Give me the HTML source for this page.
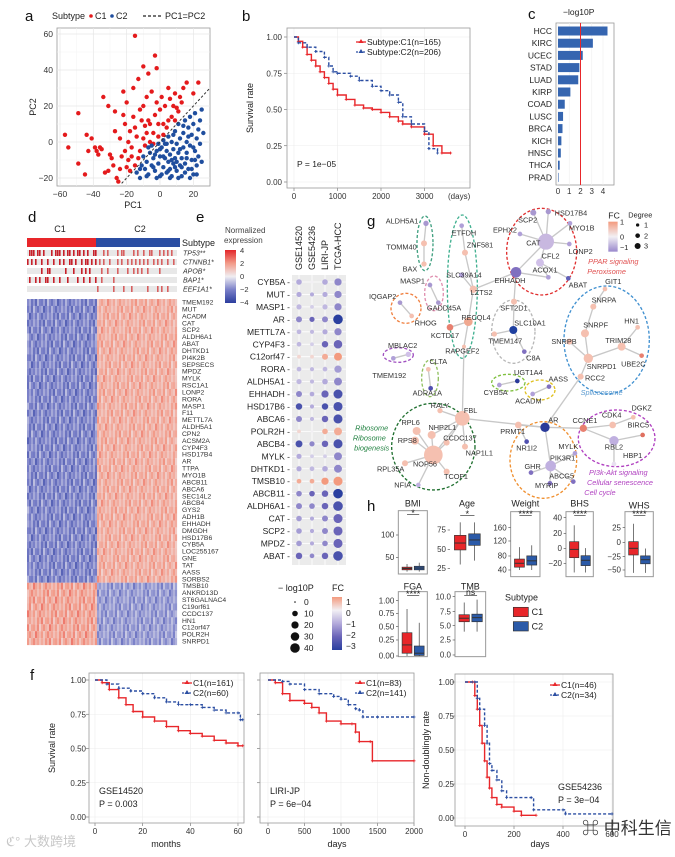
<!DOCTYPE html>
<html><head><meta charset="utf-8">
<style>
html,body{margin:0;padding:0;background:#fff;}
svg{display:block;font-family:"Liberation Sans","Noto Sans CJK SC",sans-serif;}
</style></head>
<body>
<svg id="fig" width="675" height="857" viewBox="0 0 675 857" xmlns="http://www.w3.org/2000/svg">
<rect x="0" y="0" width="675" height="857" fill="#fff"/>
<defs>
<linearGradient id="gradD" x1="0" y1="0" x2="0" y2="1"><stop offset="0" stop-color="#e3262a"/><stop offset="0.25" stop-color="#f29a88"/><stop offset="0.5" stop-color="#f0eef2"/><stop offset="0.75" stop-color="#7a80c8"/><stop offset="1" stop-color="#2c3e9e"/></linearGradient>
<linearGradient id="gradE" x1="0" y1="0" x2="0" y2="1"><stop offset="0" stop-color="#f39a7e"/><stop offset="0.25" stop-color="#f2f0f4"/><stop offset="0.5" stop-color="#b3aadb"/><stop offset="0.75" stop-color="#6a64b8"/><stop offset="1" stop-color="#2a3f9f"/></linearGradient>
<linearGradient id="gradG" x1="0" y1="0" x2="0" y2="1"><stop offset="0" stop-color="#f39a7e"/><stop offset="0.5" stop-color="#f2f0f4"/><stop offset="1" stop-color="#9a88cc"/></linearGradient>
</defs>

<!-- panel labels -->
<g font-size="15" fill="#111">
<text x="25" y="21">a</text>
<text x="242" y="21">b</text>
<text x="528" y="19">c</text>
<text x="28" y="222">d</text>
<text x="196" y="222">e</text>
<text x="367" y="226">g</text>
<text x="367" y="511">h</text>
<text x="30" y="680">f</text>
</g>

<!-- panel a legend -->
<g font-size="9" fill="#222">
<text x="52" y="19">Subtype</text>
<circle cx="91" cy="16" r="1.8" fill="#e41a1c"/>
<text x="95" y="19">C1</text>
<circle cx="112" cy="16" r="1.8" fill="#1f4e9e"/>
<text x="116" y="19">C2</text>
<line x1="143" y1="16" x2="161" y2="16" stroke="#222" stroke-width="1.2" stroke-dasharray="3,2"/>
<text x="165" y="19">PC1=PC2</text>
</g>
<g id="pa"></g>
<g id="pb"></g>
<g id="pc"></g>
<g id="pd"></g>
<g id="pe"></g>
<g id="pg" transform="translate(340,190) scale(0.3333)"></g>
<g id="ph" transform="translate(340,480) scale(0.3333)"></g>
<g id="pf"></g>

<!-- watermarks -->
<text x="6" y="846" font-size="13" fill="#c8c8c8">ℭ° 大数跨境</text>
<text x="582" y="834" font-size="17" fill="#333">⌘ 中科生信</text>
</svg>

<script>
const NS='http://www.w3.org/2000/svg';
function mk(tag,a,p){const e=document.createElementNS(NS,tag);for(const k in a)e.setAttribute(k,a[k]);p.appendChild(e);return e;}
function tx(s,a,p){const e=mk('text',a,p);e.textContent=s;return e;}

/* ---------- data: panel a ---------- */
const pcaC1=[[-57,4],[-55,-3],[-49,16],[-49,-12],[-45,-18],[-44,4],[-43,-5],[-41,2],[-39,-3],[-38,-5],[-37,-7],[-36,-3],[-35,-4],[-34,25],[-33,-17],[-31,20],[-31,-16],[-30,-7],[-29,-9],[-28,-13],[-27,17],[-27,6],[-26,-20],[-25,-22],[-24,-15],[-24,2],[-23,-8],[-22,15],[-22,28],[-21,10],[-21,-5],[-20,22],[-19,-10],[-18,6],[-18,-16],[-17,-3],[-16,30],[-15,8],[-15,-13],[-14,3],[-13,35],[-12,18],[-12,-5],[-11,12],[-10,42],[-10,20],[-9,-2],[-8,5],[-8,25],[-7,38],[-6,10],[-6,0],[-5,28],[-4,5],[-3,48],[-3,15],[-2,41],[-2,22],[-1,3],[0,18],[1,25],[2,10],[3,20],[4,8],[5,30],[6,24],[7,14],[8,20],[9,27],[10,19],[11,17],[12,25],[13,22],[14,30],[16,33],[20,27],[23,33],[-15,59],[-20,-14],[-17,-8],[-10,2],[-7,12],[-4,-1],[-13,-9],[-16,14],[-9,9],[-19,0],[2,4],[5,12],[9,12],[-1,10]];
const pcaC2=[[-14,-17],[-12,-20],[-11,-13],[-10,-8],[-9,-15],[-8,-11],[-7,-18],[-6,-6],[-5,-13],[-5,-2],[-4,-9],[-3,-16],[-2,-5],[-1,-12],[-1,-1],[0,-8],[0,-19],[1,-3],[2,-14],[2,1],[3,-9],[3,-1],[4,-17],[4,-5],[5,-11],[5,3],[6,-7],[6,-15],[7,0],[7,-19],[8,-4],[8,-12],[9,6],[9,-9],[10,-1],[10,-16],[11,-6],[11,10],[12,-13],[12,2],[13,-9],[13,-19],[14,5],[14,-3],[15,12],[15,-12],[16,-6],[16,0],[17,8],[17,-15],[18,-2],[18,14],[19,-10],[19,4],[20,-18],[20,10],[21,-5],[21,16],[22,2],[22,-13],[23,-8],[23,7],[24,12],[24,-1],[25,18],[25,-11],[26,5],[-2,-20],[1,-18],[6,-20],[-7,-3],[-4,-14],[9,-14],[15,-17],[11,-20],[18,-20],[-12,-15],[-8,-19],[0,-4],[4,-1],[7,-10],[12,-4],[2,-8],[-3,-7],[16,-9],[20,-3],[13,-14],[19,-15],[10,-11],[5,-16],[14,9],[21,-10],[8,4],[17,3],[22,-18]];
const pcaXTicks=[-60,-40,-20,0,20];
const pcaYTicks=[-20,0,20,40,60];

/* ---------- data: panel b ---------- */
const tcgaC1T=[0,100,200,300,400,500,600,700,800,900,1000,1200,1400,1600,1800,2000,2200,2400,2500,2700,3000,3200,3400,3600];
const tcgaC1S=[1,0.97,0.93,0.88,0.84,0.8,0.76,0.72,0.68,0.64,0.6,0.57,0.53,0.51,0.5,0.48,0.45,0.42,0.4,0.38,0.33,0.25,0.2,0.2];
const tcgaC2T=[0,100,300,500,700,800,900,1000,1300,1500,1800,2000,2200,2400,2500,2700,3000,3100,3300];
const tcgaC2S=[1,0.96,0.93,0.9,0.86,0.8,0.76,0.75,0.73,0.7,0.66,0.63,0.6,0.55,0.45,0.4,0.35,0.23,0.2];
const survTicks=[0,0.25,0.5,0.75,1];
const dayTicks=[0,1000,2000,3000,4000];

/* ---------- data: panel c ---------- */
const cancers=['HCC','KIRC','UCEC','STAD','LUAD','KIRP','COAD','LUSC','BRCA','KICH','HNSC','THCA','PRAD'];
const cancerLogP=[4.4,3.1,2.2,1.9,1.8,1.1,0.6,0.45,0.4,0.3,0.25,0.15,0.05];
const logPTicks=[0,1,2,3,4];
const logPCutoff=2;

/* ---------- data: panel d ---------- */
const heatGenes=['TMEM192','MUT','ACADM','CAT','SCP2','ALDH6A1','ABAT','DHTKD1','PI4K2B','SEPSECS','MPDZ','MYLK','RSC1A1','LONP2','RORA','MASP1','F11','METTL7A','ALDH5A1','CPN2','ACSM2A','CYP4F3','HSD17B4','AR','TTPA','MYO1B','ABCB11','ABCA6','SEC14L2','ABCB4','GYS2','ADH1B','EHHADH','DMGDH','HSD17B6','CYB5A','LOC255167','GNE','TAT','AASS','SORBS2','TMSB10','ANKRD13D','ST6GALNAC4','C19orf61','CCDC137','HN1','C12orf47','POLR2H','SNRPD1'];
const heatUpperBase=[-1.8,1.4];
const heatLowerBase=[1.6,-1.4];
const heatShade=[1.0,0.7,1.3,0.9,1.5,0.6,1.1,1.2,0.8,1.4,0.5,1.0,1.3,0.9,0.7,1.6,1.1,0.8,1.2,0.6,1.0,1.4,0.9,1.1,0.7];
const mutGenes=['TP53**','CTNNB1*','APOB*','BAP1*','EEF1A1*'];
const mutCols=[[1,2,3,5,6,8,12,14,15,16,18,20,21,23,25,26,28,30,33,34,38,40,45,47,48,53,55,58,61,62,66,68,70,72],[0,2,4,7,10,13,16,18,21,22,24,27,29,30,32,34,36,38,41,45,47,50,52,54,56,58,60,63,65,67,70,73],[7,10,11,19,23,27,29,31,37,40,45,50,53,55,57,60,66],[1,4,6,9,10,13,16,20,25,28,31,34,37,43],[35,43,48,52,60,65,67,70]];

/* ---------- data: panel e ---------- */
const dotGenes=['CYB5A','MUT','MASP1','AR','METTL7A','CYP4F3','C12orf47','RORA','ALDH5A1','EHHADH','HSD17B6','ABCA6','POLR2H','ABCB4','MYLK','DHTKD1','TMSB10','ABCB11','ALDH6A1','CAT','SCP2','MPDZ','ABAT'];
const dotCohorts=['GSE14520','GSE54236','LIRI-JP','TCGA-HCC'];
const dotFC=[[-1,0,-1,-1.5],[-1,-1,-1,-1.5],[-0.8,-0.5,-0.8,-1.5],[-1.5,-2,-1.5,-3],[-0.8,-0.8,-1,-1.5],[-0.8,-0.5,-2,-2],[0.3,0.3,0.8,1],[-0.8,-0.8,-0.8,-1.2],[-0.8,-0.8,-1,-1.5],[-1.5,-1,-2,-2.5],[-2.5,-1,-2.5,-2.5],[-1.5,-0.8,-2,-2.5],[0.3,0,0.8,0.8],[-2.5,-1.5,-2,-2.5],[-1,-0.5,-0.5,-1.5],[-1,-0.8,-1,-1.5],[0.8,0.8,1.5,1.5],[-1.5,-2,-2,-3.2],[-1.5,-1.5,-2,-2.5],[-1.2,-1,-1.5,-2],[-1.2,-1,-1.5,-2],[-1.2,-1,-1.5,-2],[-2,-1.5,-2,-2.5]];
const dotLogP=[[10,2,10,20],[8,4,8,20],[8,3,8,20],[12,8,12,40],[6,4,8,20],[6,3,15,30],[3,3,12,25],[6,4,6,20],[8,4,10,25],[12,6,20,35],[15,4,15,35],[12,4,15,35],[3,1,10,25],[18,8,15,35],[8,3,3,25],[8,6,10,25],[6,6,20,35],[10,10,15,40],[12,10,15,40],[10,4,12,35],[10,4,12,35],[10,4,10,35],[15,6,15,40]];
const sizeLegend=[0,10,20,30,40];
const fcLegend=['1','0','−1','−2','−3'];

/* ---------- data: panel f ---------- */
const f1C1T=[0,3,6,10,13,16,20,25,30,35,40,45,50,55,60,62];
const f1C1S=[1,0.98,0.93,0.87,0.82,0.77,0.73,0.7,0.66,0.63,0.61,0.59,0.56,0.54,0.52,0.52];
const f1C2T=[0,5,10,15,20,25,30,35,40,45,50,55,60,61,62];
const f1C2S=[1,0.97,0.94,0.92,0.9,0.87,0.84,0.82,0.82,0.8,0.78,0.76,0.76,0.71,0.71];
const f2C1T=[0,100,200,300,500,600,700,800,1000,1150,1200,1250,1400,1430,2000];
const f2C1S=[1,0.98,0.9,0.85,0.83,0.8,0.76,0.7,0.68,0.68,0.62,0.55,0.55,0.41,0.41];
const f2C2T=[0,200,300,500,700,900,1000,1100,1200,1250,1300,1500,2000];
const f2C2S=[1,0.99,0.97,0.93,0.9,0.88,0.86,0.82,0.79,0.78,0.73,0.73,0.73];
const f3C1T=[0,30,40,50,60,70,80,90,100,110,130,150,200,230,290];
const f3C1S=[1,1,0.9,0.8,0.68,0.55,0.42,0.3,0.22,0.15,0.1,0.08,0.05,0.02,0.02];
const f3C2T=[0,40,50,60,80,90,100,110,130,150,170,270,280,400,410,600];
const f3C2S=[1,1,0.88,0.8,0.68,0.55,0.4,0.35,0.28,0.2,0.15,0.15,0.06,0.06,0.03,0.03];
const monthTicks=[0,20,40,60];
const f2Ticks=[0,500,1000,1500,2000];
const f3Ticks=[0,200,400,600];

/* ---------- data: panel h ---------- */
const boxVars=['BMI','Age','Weight','BHS','WHS','FGA','TMB'];
const boxC1=[[18,22,25,28,35],[30,49,58,68,85],[40,48,59,71,105],[-32,-12.6,-1.7,8.4,30],[-55,-23.4,-11.6,0.2,32],[0,0.05,0.2,0.42,0.85],[4,5.7,6.3,6.9,9]];
const boxC2=[[18,22,26,30,38],[35,55,62,70,85],[40,54,66,80,110],[-32,-23,-16,-10,0],[-55,-39,-31.8,-25,-12],[0,0.01,0.05,0.18,0.6],[4,5.7,6.4,7.0,9.5]];
const boxSig=['*','*','****','****','****','****','ns'];

/* ---------- generic helpers ---------- */
function lerpColor(stops,v){
  if(v<=stops[0][0])return stops[0][1];
  if(v>=stops[stops.length-1][0])return stops[stops.length-1][1];
  for(let i=0;i<stops.length-1;i++){const a=stops[i],b=stops[i+1];if(v>=a[0]&&v<=b[0]){const t=(v-a[0])/(b[0]-a[0]);const ca=hex(a[1]),cb=hex(b[1]);return 'rgb('+ca.map((c,k)=>Math.round(c+(cb[k]-c)*t)).join(',')+')';}}
}
function hex(h){return [parseInt(h.substr(1,2),16),parseInt(h.substr(3,2),16),parseInt(h.substr(5,2),16)];}

function kmPath(times,survs,xs,ys){let d='M'+xs(times[0])+','+ys(survs[0]);for(let i=1;i<times.length;i++){d+=' H'+xs(times[i]).toFixed(1)+' V'+ys(survs[i]).toFixed(1);}return d;}

function kmPanel(p,opt){
  const {x0,x1,y0,y1,xs,ys,xticks,yLabels,ylx,grid}=opt;
  const fr=mk('rect',{x:x0,y:y0,width:x1-x0,height:y1-y0,fill:'#fff',stroke:'#999','stroke-width':0.8},p);
  
  
  survTicks.forEach(s=>{
    const g=mk('line',{x1:x0,x2:x1,y1:ys(s),y2:ys(s),stroke:'#ececec','stroke-width':0.6},p);
    
    
    const tk=mk('line',{x1:x0-3,x2:x0,y1:ys(s),y2:ys(s),stroke:'#666','stroke-width':0.6},p);
    
    
    if(yLabels){const t=tx(s.toFixed(2),{x:ylx,y:ys(s)+3,'font-size':8,'text-anchor':'end',fill:'#333'},p);
      
      }
  });
  xticks.forEach(v=>{
    const g=mk('line',{x1:xs(v),x2:xs(v),y1:y0,y2:y1,stroke:'#ececec','stroke-width':0.6},p);
    
    
    const tk=mk('line',{x1:xs(v),x2:xs(v),y1:y1,y2:y1+3,stroke:'#666','stroke-width':0.6},p);
    
    
    const t=tx(String(v),{x:xs(v),y:y1+11,'font-size':8,'text-anchor':'middle',fill:'#333'},p);
    
    
  });
  fr.parentNode.appendChild(fr);fr.setAttribute('fill','none');
}
function kmCurve(p,times,survs,xs,ys,color,dashed,name){
  const path=mk('path',{d:kmPath(times,survs,xs,ys),fill:'none',stroke:color,'stroke-width':1.4,'stroke-dasharray':dashed?'3,2':'none'},p);
  
  
  for(let i=1;i<times.length;i++){
    const m=mk('path',{d:'M'+(xs(times[i])-1.5)+','+ys(survs[i])+' h3 M'+xs(times[i])+','+(ys(survs[i])-1.5)+' v3',stroke:color,'stroke-width':0.8},p);
    
    
  }
}
function kmLegend(p,x,y,lab1,lab2){
  [[lab1,'#e8262a',false],[lab2,'#2b4ea2',true]].forEach((l,i)=>{
    const ln=mk('line',{x1:x,x2:x+10,y1:y+i*10-3,y2:y+i*10-3,stroke:l[1],'stroke-width':1.3,'stroke-dasharray':l[2]?'2,1.5':'none'},p);
    
    
    const tr=mk('path',{d:'M'+(x+5)+','+(y+i*10-6)+' l2.5,4 h-5 z',fill:l[1]},p);
    
    
    const t=tx(l[0],{x:x+11,y:y+i*10,'font-size':8.5,fill:'#222'},p);
    
    
  });
}

/* ---------- panel a ---------- */
(function(){
  const p=document.getElementById('pa');
  const xs=v=>160+v*1.667, ys=v=>142-v*1.8;
  const x0=57,x1=210,y0=28,y1=186;
  const fr=mk('rect',{x:x0,y:y0,width:x1-x0,height:y1-y0,fill:'#fff',stroke:'#999','stroke-width':0.8},p);
  
  
  [-50,-30,-10,10,30].forEach(v=>{if(xs(v)<x1){const g=mk('line',{x1:xs(v),x2:xs(v),y1:y0,y2:y1,stroke:'#f3f3f3','stroke-width':0.5},p);
    
    }});
  [-10,10,30,50].forEach(v=>{const g=mk('line',{x1:x0,x2:x1,y1:ys(v),y2:ys(v),stroke:'#f3f3f3','stroke-width':0.5},p);
    
    });
  pcaXTicks.forEach(v=>{
    const g=mk('line',{x1:xs(v),x2:xs(v),y1:y0,y2:y1,stroke:'#e6e6e6','stroke-width':0.7},p);
    
    
    const t=tx(v<0?'−'+(-v):String(v),{x:xs(v),y:197,'font-size':8.5,'text-anchor':'middle',fill:'#333'},p);
    
    
  });
  pcaYTicks.forEach(v=>{
    const g=mk('line',{x1:x0,x2:x1,y1:ys(v),y2:ys(v),stroke:'#e6e6e6','stroke-width':0.7},p);
    
    
    const t=tx(v<0?'−'+(-v):String(v),{x:53,y:ys(v)+3,'font-size':8.5,'text-anchor':'end',fill:'#333'},p);
    
    
  });
  pcaC1.forEach(d=>{const c=mk('circle',{cx:xs(d[0]),cy:ys(d[1]),r:2.2,fill:'#e41a1c'},p);
    
    });
  pcaC2.forEach(d=>{const c=mk('circle',{cx:xs(d[0]),cy:ys(d[1]),r:2.2,fill:'#1f4e9e'},p);
    
    });
  const dl=mk('line',{x1:xs(-23),y1:ys(-23),x2:xs(30),y2:ys(30),stroke:'#333','stroke-width':1,'stroke-dasharray':'2.5,2'},p);
  
  
  const xt=tx('PC1',{x:133,y:208,'font-size':9,'text-anchor':'middle',fill:'#222'},p);
  
  
  const yt=tx('PC2',{x:0,y:0,'font-size':9,'text-anchor':'middle',fill:'#222',transform:'translate(36,107) rotate(-90)'},p);
  
  
})();

/* ---------- panel b ---------- */
(function(){
  const p=document.getElementById('pb');
  const xs=t=>294+t*0.0435, ys=s=>182-s*145;
  kmPanel(p,{x0:287,x1:470,y0:28,y1:188,xs,ys,xticks:dayTicks.slice(0,4),yLabels:true,ylx:282});
  const dt=tx('(days)',{x:448,y:199,'font-size':8,fill:'#333'},p);
  
  
  kmCurve(p,tcgaC1T,tcgaC1S,xs,ys,'#e8262a',false,'km-c1');
  kmCurve(p,tcgaC2T,tcgaC2S,xs,ys,'#2b4ea2',true,'km-c2');
  kmLegend(p,356,45,'Subtype:C1(n=165)','Subtype:C2(n=206)');
  const pv=tx('P = 1e−05',{x:297,y:167,'font-size':8.5,fill:'#222'},p);
  
  
  const yt=tx('Survival rate',{x:0,y:0,'font-size':9,'text-anchor':'middle',fill:'#222',transform:'translate(253,108) rotate(-90)'},p);
  
  
})();

/* ---------- panel c ---------- */
(function(){
  const p=document.getElementById('pc');
  const xs=v=>558+v*11.25, ys=i=>31+i*12.2;
  const fr=mk('rect',{x:556,y:23,width:58,height:162,fill:'#fff',stroke:'#999','stroke-width':0.8},p);
  
  
  logPTicks.forEach(v=>{
    const g=mk('line',{x1:xs(v),x2:xs(v),y1:23,y2:185,stroke:'#eee','stroke-width':0.6},p);
    
    
    const t=tx(String(v),{x:xs(v),y:194,'font-size':8,'text-anchor':'middle',fill:'#333'},p);
    
    
  });
  cancers.forEach((c,i)=>{
    const b=mk('rect',{x:xs(0),y:ys(i)-4.5,width:Math.max(0.5,xs(cancerLogP[i])-xs(0)),height:9,fill:'#3565b0'},p);
    
    
    const t=tx(c,{x:552,y:ys(i)+3,'font-size':8.5,'text-anchor':'end',fill:'#222'},p);
    
    
  });
  const rl=mk('line',{x1:xs(logPCutoff),x2:xs(logPCutoff),y1:23,y2:185,stroke:'#e8262a','stroke-width':1},p);
  
  
  const tt=tx('−log10P',{x:563,y:15,'font-size':8.5,fill:'#222'},p);
  
  
})();

/* ---------- panel d ---------- */
(function(){
  const p=document.getElementById('pd');
  const hm=lerp=>lerpColor([[-4,'#2c3e9e'],[-2,'#7a80c8'],[0,'#f0eef2'],[2,'#f29a88'],[4,'#e3262a']],lerp);
  [['C1',60],['C2',140]].forEach(c=>{const t=tx(c[0],{x:c[1],y:232,'font-size':9,'text-anchor':'middle',fill:'#222'},p);
    
    });
  const s1=mk('rect',{x:27,y:238,width:69,height:9,fill:'#e8262a'},p);
  
  
  const s2=mk('rect',{x:96,y:238,width:84,height:9,fill:'#2b4ea2'},p);
  
  
  const nCols=75, cw=150/nCols;
  mutGenes.forEach((g,i)=>{
    const y=250+i*9;
    const bg=mk('rect',{x:27,y:y,width:150,height:6,fill:'#e8e8e8'},p);
    
    
    mutCols[i].forEach(c=>{const r=mk('rect',{x:27+c*cw,y:y,width:cw*0.8,height:6,fill:c<35?'#c8202a':'#d86060'},p);
      
      });
    const t=tx(g,{x:183,y:y+5.5,'font-size':7,'font-style':'italic',fill:'#333'},p);
    
    
  });
  const st=tx('Subtype',{x:182,y:246,'font-size':9,fill:'#222'},p);
  
  
  const rh=6.92;
  heatGenes.forEach((g,r)=>{
    const upper=r<41;
    for(let c=0;c<nCols;c++){
      const grp=c<35?0:1;
      const base=(upper?heatUpperBase:heatLowerBase)[grp];
      const v=base*heatShade[(c+r*7)%heatShade.length];
      const cell=mk('rect',{x:27+c*cw,y:299+r*rh,width:cw+0.1,height:rh+0.1,fill:hm(v)},p);
      
      
    }
    const t=tx(g,{x:182,y:299+r*rh+5.5,'font-size':6.8,fill:'#333'},p);
    
    
  });
  const l1=tx('Normalized',{x:225,y:233,'font-size':8,fill:'#444'},p);
  
  
  const l2=tx('expression',{x:224,y:243,'font-size':8,fill:'#444'},p);
  
  
  const gb=mk('rect',{x:225,y:250,width:11,height:53,fill:'url(#gradD)'},p);
  
  
  ['4','2','0','−2','−4'].forEach((s,i)=>{const t=tx(s,{x:240,y:253+i*13,'font-size':7.5,fill:'#333'},p);
    
    });
})();

/* ---------- panel e ---------- */
(function(){
  const p=document.getElementById('pe');
  const fcc=v=>lerpColor([[-3,'#2a3f9f'],[-2,'#6a64b8'],[-1,'#b3aadb'],[0,'#f2f0f4'],[1,'#f39a7e']],v);
  const rad=s=>0.8+Math.sqrt(s/40)*4;
  const xs=i=>299+i*13, ys=i=>282+i*12.45;
  const bg=mk('rect',{x:292,y:275,width:54,height:290,fill:'#ebebeb'},p);
  
  
  dotCohorts.forEach((c,j)=>{
    const g=mk('line',{x1:xs(j),x2:xs(j),y1:275,y2:565,stroke:'#fff','stroke-width':0.8},p);
    
    
    const t=tx(c,{x:0,y:0,'font-size':9,fill:'#222',transform:'translate('+(xs(j)+3)+',270) rotate(-90)'},p);
    
    
  });
  dotGenes.forEach((g,i)=>{
    const gl=mk('line',{x1:292,x2:346,y1:ys(i),y2:ys(i),stroke:'#fff','stroke-width':0.8},p);
    
    
    const t=tx(g+' -',{x:290,y:ys(i)+3,'font-size':8.5,'text-anchor':'end',fill:'#222'},p);
    
    
    dotCohorts.forEach((c,j)=>{
      const d=mk('circle',{cx:xs(j),cy:ys(i),r:rad(dotLogP[i][j]),fill:fcc(dotFC[i][j])},p);
      
      
    });
  });
  const lt=tx('− log10P',{x:278,y:591,'font-size':9,fill:'#222'},p);
  
  
  sizeLegend.forEach((s,i)=>{
    const c=mk('circle',{cx:295,cy:602+i*11.5,r:rad(s),fill:'#111'},p);
    
    
    const t=tx(String(s),{x:304,y:605+i*11.5,'font-size':8.5,fill:'#222'},p);
    
    
  });
  const ft=tx('FC',{x:332,y:591,'font-size':9,fill:'#222'},p);
  
  
  const fb=mk('rect',{x:332,y:597,width:10,height:53,fill:'url(#gradE)'},p);
  
  
  fcLegend.forEach((s,i)=>{const t=tx(s,{x:346,y:605+i*11,'font-size':8.5,fill:'#222'},p);
    
    });
})();

/* ---------- panel g (network, coordinates in 3x space) ---------- */
const netNodes=[
['ALDH5A1',258,100,8,'#a898d0',235,100,'end'],['TOMM40',252,160,9,'#f5c0b0',230,178,'end'],['BAX',252,222,8,'#f5c0b0',232,245,'end'],
['ETFDH',365,107,7,'#b0a0d8',372,137,'middle'],['ZNF581',375,188,9,'#f5c0b0',420,172,'middle'],['SLC39A14',365,255,8,'#b0a0d8',372,262,'middle'],
['LZTS2',400,298,11,'#f5c0b0',425,315,'middle'],['RECQL4',385,395,13,'#f0a890',408,390,'middle'],['KCTD17',330,412,10,'#e88070',315,444,'middle'],
['RAPGEF2',372,470,6,'#f5c0b0',367,490,'middle'],['MASP1',270,285,7,'#a898d0',255,280,'end'],['GADD45A',295,338,7,'#a898d0',312,362,'middle'],
['IQGAP2',180,338,7,'#a898d0',128,327,'middle'],['RHOG',215,378,7,'#f5c0b0',257,407,'middle'],['MBLAC2',205,493,8,'#d0c0e8',188,474,'middle'],
['TMEM192',160,505,7,'#b0a0d8',148,564,'middle'],['CLTA',265,538,7,'#f5c0b0',295,522,'middle'],['ADRA1A',272,595,7,'#5050b0',262,617,'middle'],
['EHHADH',528,247,16,'#8070c0',510,279,'middle'],['SCP2',580,68,9,'#a898d0',563,97,'middle'],['HSD17B4',625,65,8,'#a898d0',693,77,'middle'],
['EPHX2',540,132,7,'#b0a0d8',495,127,'middle'],['CAT',618,155,24,'#c8b8e0',580,167,'middle'],['MYO1B',690,100,7,'#b0a0d8',725,122,'middle'],
['CFL2',600,218,12,'#d0c0e8',632,205,'middle'],['LONP2',688,162,7,'#b0a0d8',722,192,'middle'],['ACOX1',625,262,7,'#b0a0d8',615,247,'middle'],
['ABAT',685,265,7,'#6060b8',714,292,'middle'],['SFT2D1',522,335,9,'#f5c0b0',522,362,'middle'],['SLC10A1',520,420,12,'#2040a0',570,407,'middle'],
['TMEM147',463,432,8,'#f5c0b0',496,460,'middle'],['C8A',553,485,7,'#8070c0',580,512,'middle'],['UGT1A4',532,573,7,'#2a3a9a',565,555,'middle'],
['CYB5A',478,585,7,'#b0a0d8',467,615,'middle'],['AASS',627,590,7,'#8070c0',655,575,'middle'],['ACADM',578,612,7,'#b0a0d8',565,640,'middle'],
['GIT1',795,297,7,'#f5c0b0',820,282,'middle'],['SNRPA',760,350,9,'#f5c0b0',792,337,'middle'],['SNRPF',735,430,12,'#f5c0b0',767,412,'middle'],
['HN1',893,412,7,'#f5c0b0',875,400,'middle'],['SNRPB',688,455,9,'#f5c0b0',672,462,'middle'],['TRIM28',845,470,12,'#f5c0b0',835,459,'middle'],
['SNRPD1',745,505,14,'#f5c0b0',785,537,'middle'],['UBE2C',905,497,7,'#e88070',880,529,'middle'],['RCC2',722,560,9,'#f5c0b0',765,572,'middle'],
['AR',615,712,14,'#2a3a9a',640,697,'middle'],['PRMT1',535,705,10,'#f5c0b0',518,732,'middle'],['NR1I2',560,755,7,'#5050b0',560,782,'middle'],
['MYLK',705,790,7,'#b0a0d8',685,777,'middle'],['PIK3R1',632,828,16,'#c0b0e0',668,812,'middle'],['GHR',573,848,7,'#8070c0',578,837,'middle'],
['ABCG5',700,875,7,'#8070c0',665,865,'middle'],['MYRIP',630,880,7,'#8070c0',620,894,'middle'],['CCNE1',730,715,11,'#e88070',735,699,'middle'],
['CDK4',818,705,10,'#f5c0b0',815,682,'middle'],['DGKZ',880,682,7,'#f5c0b0',905,662,'middle'],['BIRC5',908,735,7,'#e07060',895,712,'middle'],
['RBL2',822,752,14,'#c0b0e0',822,779,'middle'],['HBP1',822,822,7,'#e8e0f0',878,804,'middle'],['FBL',367,685,22,'#f5c0b0',392,669,'middle'],
['RALY',300,662,8,'#f5c0b0',300,654,'middle'],['RPL6',230,723,12,'#f5c0b0',212,705,'middle'],['NHP2L1',275,735,12,'#f5c0b0',307,720,'middle'],
['RPS8',225,752,12,'#f5c0b0',202,759,'middle'],['CCDC137',320,758,9,'#f5c0b0',360,752,'middle'],['NAP1L1',375,770,9,'#f5c0b0',418,797,'middle'],
['NOP56',280,795,28,'#f5c0b0',255,830,'middle'],['RPL35A',195,820,9,'#f5c0b0',152,844,'middle'],['TCOF1',320,845,9,'#f5c0b0',348,867,'middle'],
['NFIA',235,885,7,'#c0b0e0',188,892,'middle']];
const netEdges=[['ALDH5A1','TOMM40'],['TOMM40','BAX'],['ETFDH','ZNF581'],['ZNF581','LZTS2'],['SLC39A14','LZTS2'],['LZTS2','RECQL4'],['RECQL4','KCTD17'],['RECQL4','RAPGEF2'],['RAPGEF2','FBL'],['LZTS2','EHHADH'],['EHHADH','CAT'],['CAT','SCP2'],['CAT','HSD17B4'],['CAT','EPHX2'],['CAT','MYO1B'],['CAT','LONP2'],['CAT','CFL2'],['CFL2','ACOX1'],['CFL2','ABAT'],['EHHADH','ACOX1'],['EHHADH','SFT2D1'],['SFT2D1','SLC10A1'],['SLC10A1','TMEM147'],['SLC10A1','C8A'],['MASP1','GADD45A'],['IQGAP2','RHOG'],['MBLAC2','TMEM192'],['CLTA','ADRA1A'],['UGT1A4','CYB5A'],['AASS','ACADM'],['GIT1','SNRPA'],['SNRPA','SNRPF'],['SNRPF','SNRPD1'],['SNRPB','SNRPD1'],['TRIM28','SNRPD1'],['HN1','TRIM28'],['TRIM28','UBE2C'],['SNRPD1','RCC2'],['RCC2','AR'],['FBL','AR'],['AR','PRMT1'],['PRMT1','NR1I2'],['AR','PIK3R1'],['PIK3R1','MYLK'],['PIK3R1','GHR'],['PIK3R1','ABCG5'],['PIK3R1','MYRIP'],['AR','CCNE1'],['CCNE1','CDK4'],['CDK4','DGKZ'],['CCNE1','RBL2'],['RBL2','BIRC5'],['RBL2','HBP1'],['FBL','RALY'],['FBL','NHP2L1'],['FBL','NOP56'],['FBL','CCDC137'],['FBL','NAP1L1'],['NOP56','RPL6'],['NOP56','RPS8'],['NOP56','NHP2L1'],['NOP56','RPL35A'],['NOP56','TCOF1'],['NOP56','NFIA'],['NOP56','CCDC137']];
const netModules=[[255,160,24,82,'#40a080'],[367,290,45,215,'#40b090'],[282,310,28,52,'#e090b0'],[198,355,45,45,'#f08040'],[175,495,45,22,'#a050c0'],[270,565,25,55,'#90c060'],[520,425,65,95,'#b8b8b8'],[505,578,50,25,'#80c040'],[600,600,45,30,'#e0c020'],[605,185,105,130,'#e03030'],[800,450,128,162,'#4090d0'],[280,770,125,130,'#207030'],[610,810,100,115,'#f09030'],[830,745,115,85,'#b040c0']];
(function(){
  const p=document.getElementById('pg');
  const pos={};netNodes.forEach(n=>pos[n[0]]=n);
  netModules.forEach(m=>{const e=mk('ellipse',{cx:m[0],cy:m[1],rx:m[2],ry:m[3],fill:'none',stroke:m[4],'stroke-width':4,'stroke-dasharray':'9,6'},p);
    
    });
  netEdges.forEach(e=>{const a=pos[e[0]],b=pos[e[1]];const l=mk('line',{x1:a[1],y1:a[2],x2:b[1],y2:b[2],stroke:'#c8c8c8','stroke-width':4},p);
    
    });
  netNodes.forEach(n=>{
    const c=mk('circle',{cx:n[1],cy:n[2],r:n[3],fill:n[4]},p);
    
    
    const t=tx(n[0],{x:n[5],y:n[6],'font-size':22,'text-anchor':n[7],fill:'#333'},p);
    
    
  });
  const labs=[['PPAR signaling',820,222,'#e05050'],['Peroxisome',800,252,'#e05050'],['Spliceosome',785,615,'#5a9ad0'],['Ribosome',95,722,'#208040'],['Ribosome',88,752,'#208040'],['biogenesis',95,782,'#208040'],['PI3k-Akt signaling',835,855,'#b040c0'],['Cellular senescence',840,885,'#b040c0'],['Cell cycle',780,915,'#b040c0']];
  labs.forEach(l=>{const t=tx(l[0],{x:l[1],y:l[2],'font-size':22,'font-style':'italic','text-anchor':'middle',fill:l[3]},p);
    
    });
  const ft=tx('FC',{x:805,y:85,'font-size':26,fill:'#222'},p);
  
  
  const fb=mk('rect',{x:805,y:95,width:28,height:90,fill:'url(#gradG)'},p);
  
  
  [['1',103],['0',148],['−1',180]].forEach(l=>{const t=tx(l[0],{x:840,y:l[1],'font-size':22,fill:'#222'},p);
    
    });
  const dt=tx('Degree',{x:865,y:82,'font-size':22,fill:'#222'},p);
  
  
  [[1,105,5],[2,137,7],[3,168,9]].forEach(d=>{
    const c=mk('circle',{cx:893,cy:d[1],r:d[2],fill:'#111'},p);
    
    
    const t=tx(String(d[0]),{x:912,y:d[1]+8,'font-size':22,fill:'#222'},p);
    
    
  });
})();

/* ---------- panel h (3x space) ---------- */
(function(){
  const p=document.getElementById('ph');
  const panels=[
    {x0:175,x1:262,y0:92,y1:282,ticks:[[100,165],[50,232]],titleY:80,frame:true},
    {x0:330,x1:432,y0:95,y1:290,ticks:[[75,150],[50,208],[25,265]],titleY:80,frame:false},
    {x0:512,x1:600,y0:95,y1:290,ticks:[[160,143],[120,183],[80,228],[40,270]],titleY:80,frame:true},
    {x0:678,x1:760,y0:95,y1:290,ticks:[[40,113],[20,160],[0,205],[-20,250]],titleY:80,frame:true},
    {x0:855,x1:940,y0:95,y1:290,ticks:[[25,143],[0,187],[-25,230],[-50,270]],titleY:85,frame:true},
    {x0:175,x1:262,y0:335,y1:530,ticks:[[1,362],[0.75,400],[0.5,440],[0.25,480],[0,528]],titleY:328,frame:true,fmt:2},
    {x0:345,x1:437,y0:335,y1:530,ticks:[[10,350],[7.5,395],[5,437],[2.5,480],[0,525]],titleY:328,frame:true,fmt:1}];
  panels.forEach((pp,k)=>{
    const t0=pp.ticks[0],t1=pp.ticks[pp.ticks.length-1];
    const ys=v=>t0[1]+(v-t0[0])*(t1[1]-t0[1])/(t1[0]-t0[0]);
    if(pp.frame){const f=mk('rect',{x:pp.x0,y:pp.y0,width:pp.x1-pp.x0,height:pp.y1-pp.y0,fill:'#fff',stroke:'#999','stroke-width':3},p);
      
      }
    const tt=tx(boxVars[k],{x:(pp.x0+pp.x1)/2,y:pp.titleY,'font-size':27,'text-anchor':'middle',fill:'#222'},p);
    
    
    pp.ticks.forEach(t=>{
      const lbl=pp.fmt?t[0].toFixed(pp.fmt):String(t[0]).replace('-','−');
      const tl=tx(lbl,{x:pp.x0-12,y:t[1]+8,'font-size':24,'text-anchor':'end',fill:'#333'},p);
      
      
      const tk=mk('line',{x1:pp.x0-7,x2:pp.x0,y1:t[1],y2:t[1],stroke:'#555','stroke-width':2},p);
      
      
    });
    const w=(pp.x1-pp.x0)*0.34;
    [[boxC1[k],'#e8262a',pp.x0+(pp.x1-pp.x0)*0.3],[boxC2[k],'#2b5aa8',pp.x0+(pp.x1-pp.x0)*0.72]].forEach((b,j)=>{
      const s=b[0],cx=b[2];
      const wh=mk('line',{x1:cx,x2:cx,y1:ys(s[0]),y2:ys(s[4]),stroke:'#333','stroke-width':2},p);
      
      
      const bx=mk('rect',{x:cx-w/2,y:ys(s[3]),width:w,height:Math.max(2,ys(s[1])-ys(s[3])),fill:b[1],stroke:'#333','stroke-width':2},p);
      
      
      const md=mk('line',{x1:cx-w/2,x2:cx+w/2,y1:ys(s[2]),y2:ys(s[2]),stroke:'#333','stroke-width':3},p);
      
      
    });
    const bx1=pp.x0+(pp.x1-pp.x0)*0.3,bx2=pp.x0+(pp.x1-pp.x0)*0.72,by=pp.y0+12;
    const br=mk('line',{x1:bx1,x2:bx2,y1:by,y2:by,stroke:'#333','stroke-width':2},p);
    
    
    const sg=tx(boxSig[k],{x:(bx1+bx2)/2,y:by+(boxSig[k]==='ns'?-2:4),'font-size':boxSig[k]==='ns'?26:28,'text-anchor':'middle',fill:'#222'},p);
    
    
  });
  const lt=tx('Subtype',{x:495,y:362,'font-size':27,fill:'#222'},p);
  
  
  [['C1','#e8262a',382],['C2','#2b5aa8',425]].forEach(l=>{
    const r=mk('rect',{x:520,y:l[2],width:45,height:28,fill:l[1],stroke:'#333','stroke-width':2},p);
    
    
    const t=tx(l[0],{x:575,y:l[2]+23,'font-size':27,fill:'#222'},p);
    
    
  });
})();

/* ---------- panel f ---------- */
(function(){
  const p=document.getElementById('pf');
  // f1
  let xs=t=>95+t*2.383, ys=s=>817-s*137;
  kmPanel(p,{x0:89,x1:244,y0:673,y1:823,xs,ys,xticks:monthTicks,yLabels:true,ylx:86});
  kmCurve(p,f1C1T,f1C1S,xs,ys,'#e8262a',false,'f1-km-c1');
  kmCurve(p,f1C2T,f1C2S,xs,ys,'#2b4ea2',true,'f1-km-c2');
  kmLegend(p,182,686,'C1(n=161)','C2(n=60)');
  // f2
  const xs2=t=>268+t*0.073;
  kmPanel(p,{x0:260,x1:414,y0:673,y1:823,xs:xs2,ys,xticks:f2Ticks,yLabels:false});
  kmCurve(p,f2C1T,f2C1S,xs2,ys,'#e8262a',false,'f2-km-c1');
  kmCurve(p,f2C2T,f2C2S,xs2,ys,'#2b4ea2',true,'f2-km-c2');
  kmLegend(p,355,686,'C1(n=83)','C2(n=141)');
  // f3
  const xs3=t=>465+t*0.245, ys3=s=>818-s*136;
  kmPanel(p,{x0:455,x1:613,y0:674,y1:826,xs:xs3,ys:ys3,xticks:f3Ticks,yLabels:true,ylx:454});
  kmCurve(p,f3C1T,f3C1S,xs3,ys3,'#e8262a',false,'f3-km-c1');
  kmCurve(p,f3C2T,f3C2S,xs3,ys3,'#2b4ea2',true,'f3-km-c2');
  kmLegend(p,550,688,'C1(n=46)','C2(n=34)');
  const lab=[['GSE14520',99,794],['P = 0.003',99,807],['LIRI-JP',270,794],['P = 6e−04',270,807],['GSE54236',558,790],['P = 3e−04',558,803]];
  lab.forEach(l=>{const t=tx(l[0],{x:l[1],y:l[2],'font-size':9,fill:'#222'},p);
    
    });
  [['months',166],['days',337],['days',540]].forEach(l=>{const t=tx(l[0],{x:l[1],y:847,'font-size':9,'text-anchor':'middle',fill:'#222'},p);
    
    });
  const y1=tx('Survival rate',{x:0,y:0,'font-size':9,'text-anchor':'middle',fill:'#222',transform:'translate(55,748) rotate(-90)'},p);
  
  
  const y3=tx('Non-doublingly rate',{x:0,y:0,'font-size':9,'text-anchor':'middle',fill:'#222',transform:'translate(429,750) rotate(-90)'},p);
  
  
})();
</script>
</body></html>
